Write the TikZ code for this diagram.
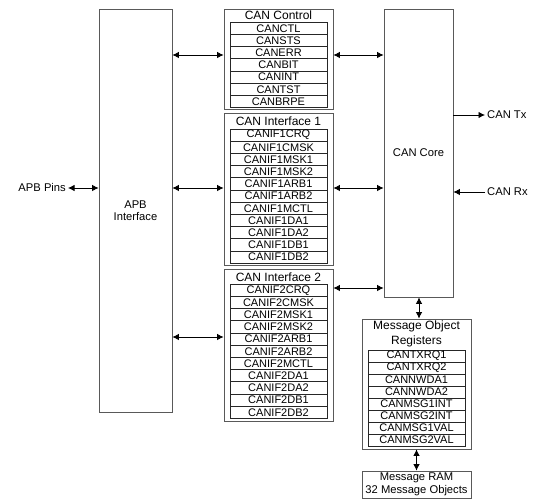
\documentclass[tikz,border=0pt]{standalone}
\usepackage{fontspec}
\setmainfont{Liberation Sans}
\usetikzlibrary{arrows.meta}
\begin{document}
\begin{tikzpicture}[x=1pt,y=-1pt,
	blk/.style={draw=black!65,line width=0.8pt,inner sep=0pt},
	reg/.style={draw=black!85,line width=0.8pt,inner sep=0pt,minimum width=97pt,minimum height=12.2pt,font=\fontsize{11}{12}\selectfont},
	ttl/.style={inner sep=0pt,font=\fontsize{12}{15}\selectfont,align=center},
	lbl/.style={inner sep=2pt,font=\fontsize{11.2}{12.5}\selectfont,align=center},
	bus/.style={line width=0.8pt,{Latex[length=6.5pt,width=6.5pt]}-{Latex[length=6.5pt,width=6.5pt]}},
	sig/.style={line width=0.8pt,-{Latex[length=6.5pt,width=6.5pt]}}]
			\useasboundingbox (0,0) rectangle (547,502);
			% main blocks
			\node [blk,minimum width=73pt,minimum height=403pt,lbl] (apb) at (135.5,210.5) {APB\\Interface};
			\node [blk,minimum width=109pt,minimum height=100pt] (ctrl) at (278.5,59) {};
			\node [blk,minimum width=109pt,minimum height=152pt] (if1) at (278.5,189) {};
			\node [blk,minimum width=109pt,minimum height=152pt] (if2) at (278.5,345) {};
			\node [blk,minimum width=69pt,minimum height=288pt,lbl] (core) at (418.5,153) {CAN Core};
			\node [blk,minimum width=109pt,minimum height=130pt] (mor) at (416.5,384) {};
			\node [blk,minimum width=109pt,minimum height=27pt,lbl,inner sep=0pt] (ram) at (416.5,484.5) {Message RAM\\32 Message Objects};
			% titles
			\node [ttl] (ctrlttl) at (278.5,15.5) {CAN Control};
			\node [ttl] (if1ttl) at (278.5,121.5) {CAN Interface 1};
			\node [ttl] (if2ttl) at (278.5,277.5) {CAN Interface 2};
			\node [ttl] (morttl) at (416.5,333.5) {Message Object\\Registers};
			% CAN Control registers
			\node [reg] (canctl) at (278.5,28.4) {CANCTL};
			\node [reg] (cansts) at (278.5,40.6) {CANSTS};
			\node [reg] (canerr) at (278.5,52.8) {CANERR};
			\node [reg] (canbit) at (278.5,65.0) {CANBIT};
			\node [reg] (canint) at (278.5,77.2) {CANINT};
			\node [reg] (cantst) at (278.5,89.4) {CANTST};
			\node [reg] (canbrpe) at (278.5,101.6) {CANBRPE};
			% CAN Interface 1 registers
			\node [reg] (ifacrq) at (278.5,135.1) {CANIF1CRQ};
			\node [reg] (ifacmsk) at (278.5,147.3) {CANIF1CMSK};
			\node [reg] (ifamska) at (278.5,159.5) {CANIF1MSK1};
			\node [reg] (ifamskb) at (278.5,171.7) {CANIF1MSK2};
			\node [reg] (ifaarba) at (278.5,183.9) {CANIF1ARB1};
			\node [reg] (ifaarbb) at (278.5,196.1) {CANIF1ARB2};
			\node [reg] (ifamctl) at (278.5,208.3) {CANIF1MCTL};
			\node [reg] (ifadaa) at (278.5,220.5) {CANIF1DA1};
			\node [reg] (ifadab) at (278.5,232.7) {CANIF1DA2};
			\node [reg] (ifadba) at (278.5,244.9) {CANIF1DB1};
			\node [reg] (ifadbb) at (278.5,257.1) {CANIF1DB2};
			% CAN Interface 2 registers
			\node [reg] (ifbcrq) at (278.5,290.4) {CANIF2CRQ};
			\node [reg] (ifbcmsk) at (278.5,302.6) {CANIF2CMSK};
			\node [reg] (ifbmska) at (278.5,314.8) {CANIF2MSK1};
			\node [reg] (ifbmskb) at (278.5,327.0) {CANIF2MSK2};
			\node [reg] (ifbarba) at (278.5,339.2) {CANIF2ARB1};
			\node [reg] (ifbarbb) at (278.5,351.4) {CANIF2ARB2};
			\node [reg] (ifbmctl) at (278.5,363.6) {CANIF2MCTL};
			\node [reg] (ifbdaa) at (278.5,375.8) {CANIF2DA1};
			\node [reg] (ifbdab) at (278.5,388.0) {CANIF2DA2};
			\node [reg] (ifbdba) at (278.5,400.2) {CANIF2DB1};
			\node [reg] (ifbdbb) at (278.5,412.4) {CANIF2DB2};
			% message object registers
			\node [reg,minimum height=12pt] (txrqa) at (416.5,356) {CANTXRQ1};
			\node [reg,minimum height=12pt] (txrqb) at (416.5,368) {CANTXRQ2};
			\node [reg,minimum height=12pt] (nwdaa) at (416.5,380) {CANNWDA1};
			\node [reg,minimum height=12pt] (nwdab) at (416.5,392) {CANNWDA2};
			\node [reg,minimum height=12pt] (msgaint) at (416.5,404) {CANMSG1INT};
			\node [reg,minimum height=12pt] (msgbint) at (416.5,416) {CANMSG2INT};
			\node [reg,minimum height=12pt] (msgaval) at (416.5,428) {CANMSG1VAL};
			\node [reg,minimum height=12pt] (msgbval) at (416.5,440) {CANMSG2VAL};
			% pins
			\node [lbl,anchor=east] (pins) at (68,188) {APB Pins};
			\node [lbl,anchor=west] (tx) at (485,115) {CAN Tx};
			\node [lbl,anchor=west] (rx) at (485,192) {CAN Rx};
			% connections
			\draw [bus] (pins.east) -- (apb.west |- pins.east);
			\draw [bus] (apb.east |- 0,55) -- (ctrl.west |- 0,55);
			\draw [bus] (apb.east |- 0,188) -- (if1.west |- 0,188);
			\draw [bus] (apb.east |- 0,337) -- (if2.west |- 0,337);
			\draw [bus] (ctrl.east |- 0,55) -- (core.west |- 0,55);
			\draw [bus] (if1.east |- 0,188) -- (core.west |- 0,188);
			\draw [bus] (if2.east |- 0,288) -- (core.west |- 0,288);
			\draw [bus] (core.south -| 419,0) -- (mor.north -| 419,0);
			\draw [bus] (mor.south) -- (ram.north);
			\draw [sig] (core.east |- tx.west) -- (tx.west);
			\draw [sig] (rx.west) -- (core.east |- rx.west);
		\end{tikzpicture}
\end{document}
